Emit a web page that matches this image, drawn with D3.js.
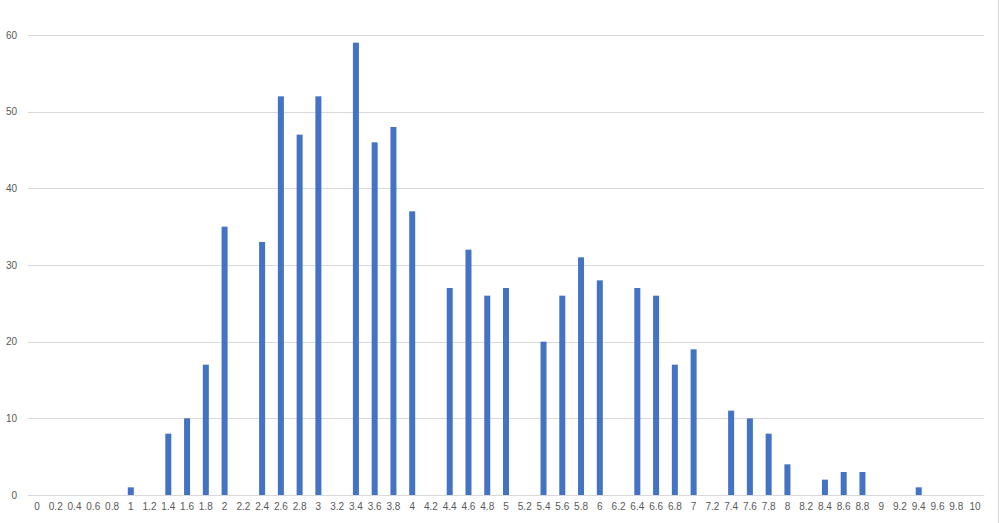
<!DOCTYPE html>
<html>
<head>
<meta charset="utf-8">
<script src="https://cdn.jsdelivr.net/npm/d3@7"></script>
<style>
  html, body { margin: 0; padding: 0; background: #fff; }
  svg { display: block; }
</style>
</head>
<body>
<svg id="chart" width="1000" height="523"></svg>
<script>
const categories = ["0","0.2","0.4","0.6","0.8","1","1.2","1.4","1.6","1.8","2","2.2","2.4","2.6","2.8","3","3.2","3.4","3.6","3.8","4","4.2","4.4","4.6","4.8","5","5.2","5.4","5.6","5.8","6","6.2","6.4","6.6","6.8","7","7.2","7.4","7.6","7.8","8","8.2","8.4","8.6","8.8","9","9.2","9.4","9.6","9.8","10"];
const values = [0,0,0,0,0,1,0,8,10,17,35,0,33,52,47,52,0,59,46,48,37,0,27,32,26,27,0,20,26,31,28,0,27,26,17,19,0,11,10,8,4,0,2,3,3,0,0,1,0,0,0];
const yTicks = [0,10,20,30,40,50,60];

(function () {
const svg = d3.select("#chart");
const pLeft = 27.6, pRight = 984.4, pTop = 35, pBottom = 495;

const x = d3.scaleBand().domain(categories).range([pLeft, pRight]).paddingInner(0.68).paddingOuter(0.34);
const y = d3.scaleLinear().domain([0, 60]).range([pBottom, pTop]);

// gridlines
svg.append("g").selectAll("line").data(yTicks).join("line")
  .attr("x1", pLeft).attr("x2", pRight)
  .attr("y1", d => Math.round(y(d)) + 0.5).attr("y2", d => Math.round(y(d)) + 0.5)
  .attr("stroke", "#d9d9d9").attr("stroke-width", 1);

// right frame edge
svg.append("line").attr("x1", 998.5).attr("x2", 998.5).attr("y1", 0).attr("y2", 523)
  .attr("stroke", "#d9d9d9");

// bars
svg.append("g").selectAll("rect").data(values).join("rect")
  .attr("x", (d, i) => x(categories[i]))
  .attr("width", x.bandwidth())
  .attr("y", d => y(d))
  .attr("height", d => y(0) - y(d))
  .attr("fill", "#4472c4");

// y axis labels
const yAxis = d3.axisLeft(y).tickValues(yTicks).tickSize(0).tickPadding(0);
const gy = svg.append("g").attr("transform", "translate(17,0)").call(yAxis);
gy.select(".domain").remove();
gy.selectAll("text").attr("fill", "#595959").style("font-family", "'Liberation Sans', Arial, sans-serif").style("font-size", "10px");

// x axis labels
const xAxis = d3.axisBottom(x).tickSize(0).tickPadding(0);
const gx = svg.append("g").attr("transform", "translate(0,503)").call(xAxis);
gx.select(".domain").remove();
gx.selectAll("text").attr("fill", "#595959").style("font-family", "'Liberation Sans', Arial, sans-serif").style("font-size", "10px");
})();
</script>
</body>
</html>
